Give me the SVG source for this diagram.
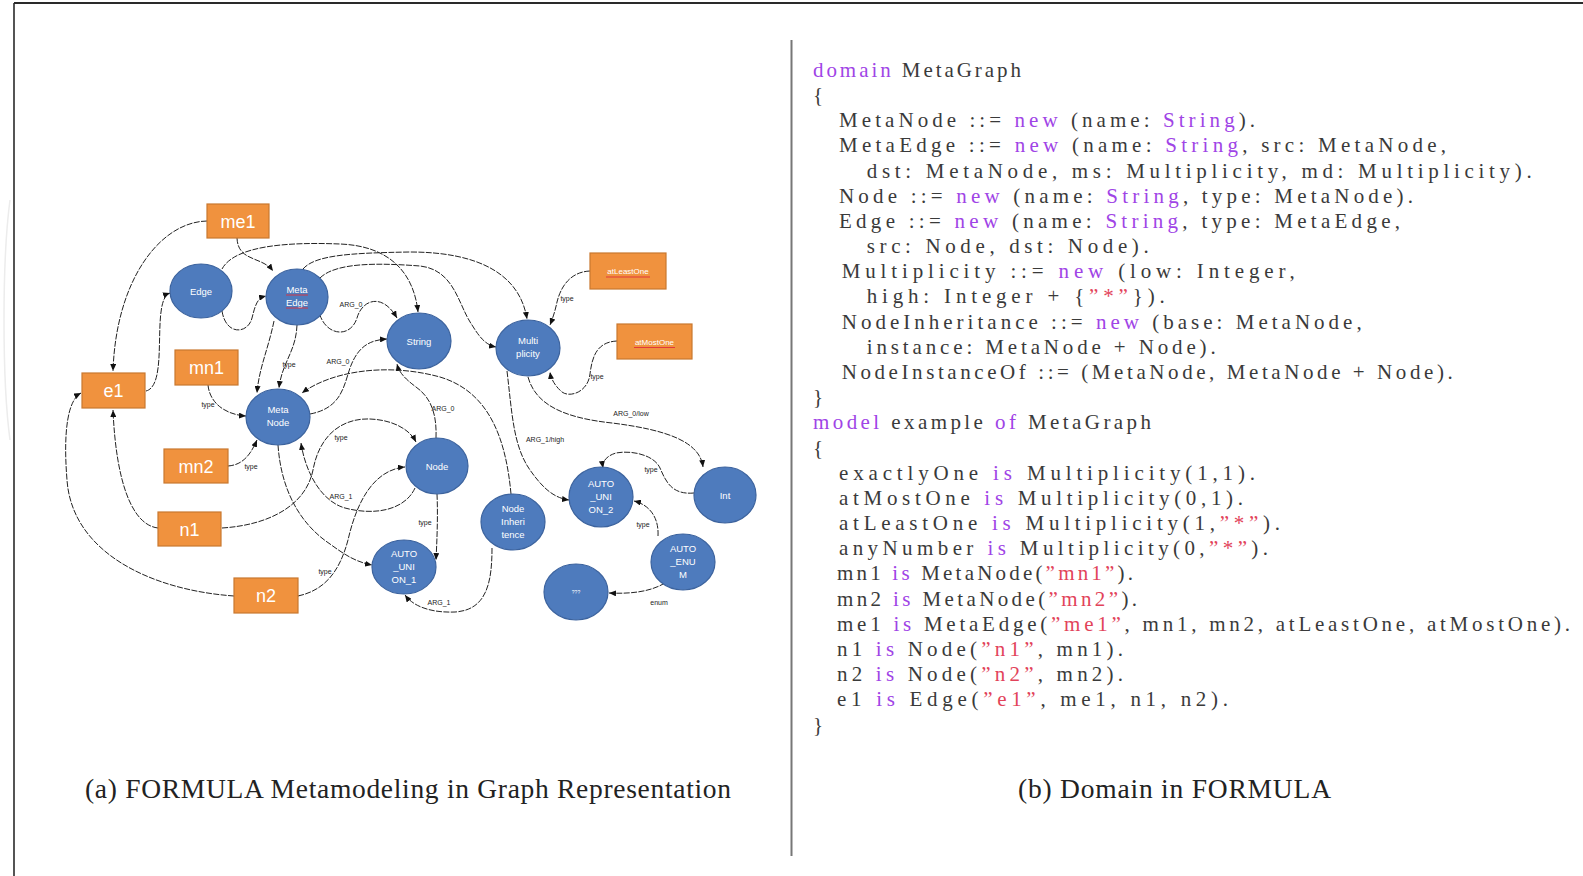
<svg xmlns="http://www.w3.org/2000/svg" width="1583" height="876" viewBox="0 0 1583 876">
  <defs>
    <marker id="arrow" viewBox="0 0 7 6" refX="7" refY="3" markerWidth="7" markerHeight="6" markerUnits="userSpaceOnUse" orient="auto">
      <path d="M0,0 L7,3 L0,6 z" fill="#111"/>
    </marker>
    <style>
      .conn { fill: none; stroke: #222; stroke-width: 1; stroke-dasharray: 6 1.4; marker-end: url(#arrow); }
      .ell { fill: #4e7bbd; stroke: #3c639e; stroke-width: 1.2; }
      .box { fill: #f0923e; stroke: #c9782f; stroke-width: 1.2; }
      .nt { font-family: "Liberation Sans", Arial, sans-serif; font-size: 9.5px; fill: #ffffff; text-anchor: middle; }
      .bt { font-family: "Liberation Sans", Arial, sans-serif; font-size: 18px; fill: #ffffff; text-anchor: middle; }
      .st { font-family: "Liberation Sans", Arial, sans-serif; font-size: 8px; fill: #ffffff; text-anchor: middle; }
      .lbl { font-family: "Liberation Sans", Arial, sans-serif; font-size: 7px; fill: #222; text-anchor: middle; }
      .squig { stroke: #e0303a; stroke-width: 0.9; fill: none; }
      .code { font-family: "Liberation Serif", "Times New Roman", serif; font-size: 21px; fill: #3a3a3a; }
      .kw { fill: #a044e6; }
      .str { fill: #e2435a; }
      .cap { font-family: "Liberation Serif", "Times New Roman", serif; font-size: 27.5px; fill: #222; }
    </style>
  </defs>

  <rect x="0" y="0" width="1583" height="876" fill="#ffffff"/>

  <!-- page frame -->
  <path d="M14,3 L1583,3" stroke="#2a2a2a" stroke-width="2.2" fill="none"/>
  <path d="M14,3 L14,876" stroke="#2a2a2a" stroke-width="1.6" fill="none"/>
  <path d="M10,200 C2,260 2,380 10,440" stroke="#ececec" stroke-width="1.5" fill="none"/>
  <!-- column divider -->
  <path d="M791.5,40 L791.5,856" stroke="#777" stroke-width="2" fill="none"/>

  <!-- connectors -->
  <g id="connectors">
    <path class="conn" d="M207,221 C160,222 116,280 113,371"/>
    <path class="conn" d="M146,391 C170,385 150,300 170,293"/>
    <path class="conn" d="M237,238 C238,262 262,256 273,271"/>
    <path class="conn" d="M222,311 C226,336 248,334 252,318 C256,302 258,298 266,296"/>
    <path class="conn" d="M222,269 C235,245 290,242 340,244 C392,246 414,275 418,312"/>
    <path class="conn" d="M303,269 C315,255 350,253 410,252 C480,252 520,275 527,319"/>
    <path class="conn" d="M320,278 C336,262 380,263 420,266 C455,270 458,305 472,325 C480,338 486,345 496,347"/>
    <path class="conn" d="M318,307 C322,336 350,340 357,318 C362,300 382,292 397,318"/>
    <path class="conn" d="M297,325 C296,352 282,362 279,388"/>
    <path class="conn" d="M274,321 C268,350 259,368 257,393"/>
    <path class="conn" d="M310,414 C342,408 344,385 350,368 C358,346 370,340 387,339"/>
    <path class="conn" d="M436,438 C437,412 430,397 416,387 C404,378 399,372 397,364"/>
    <path class="conn" d="M511,494 C506,440 490,392 440,377 C385,362 330,372 302,393"/>
    <path class="conn" d="M507,371 C512,412 513,446 530,470 C544,490 555,498 569,500"/>
    <path class="conn" d="M528,377 C536,406 566,418 612,423 C668,430 700,442 703,467"/>
    <path class="conn" d="M590,271 C568,272 560,290 557,302 C555,312 552,320 550,325"/>
    <path class="conn" d="M617,341 C596,342 592,358 590,374 C588,392 570,398 562,392 C555,386 551,379 550,372"/>
    <path class="conn" d="M694,493 C672,495 666,482 660,468 C654,455 632,450 616,453 C606,456 602,462 603,468"/>
    <path class="conn" d="M658,536 C659,518 650,505 634,501"/>
    <path class="conn" d="M665,583 C650,592 630,594 609,593"/>
    <path class="conn" d="M492,548 C492,582 487,610 455,612 C430,613 413,606 405,595"/>
    <path class="conn" d="M437,494 C438,515 437,540 436,560"/>
    <path class="conn" d="M278,445 C281,490 300,524 330,544 C345,555 356,562 372,565"/>
    <path class="conn" d="M222,528 C270,525 306,505 313,470 C320,432 345,418 370,419 C394,420 410,430 416,442"/>
    <path class="conn" d="M158,528 C132,525 116,482 113,410"/>
    <path class="conn" d="M234,596 C150,590 72,552 67,480 C63,430 68,400 81,393"/>
    <path class="conn" d="M298,596 C326,590 340,570 348,540 C356,505 372,470 405,467"/>
    <path class="conn" d="M415,488 C405,510 375,516 345,508 C320,501 305,470 301,443"/>
    <path class="conn" d="M208,385 C210,405 228,415 246,416"/>
    <path class="conn" d="M228,466 C242,465 250,456 257,440"/>

    <text class="lbl" x="351" y="307">ARG_0</text>
    <text class="lbl" x="338" y="364">ARG_0</text>
    <text class="lbl" x="443" y="411">ARG_0</text>
    <text class="lbl" x="289" y="367">type</text>
    <text class="lbl" x="208" y="407">type</text>
    <text class="lbl" x="251" y="469">type</text>
    <text class="lbl" x="341" y="440">type</text>
    <text class="lbl" x="341" y="499">ARG_1</text>
    <text class="lbl" x="325" y="574">type</text>
    <text class="lbl" x="425" y="525">type</text>
    <text class="lbl" x="439" y="605">ARG_1</text>
    <text class="lbl" x="567" y="301">type</text>
    <text class="lbl" x="597" y="379">type</text>
    <text class="lbl" x="631" y="416">ARG_0/low</text>
    <text class="lbl" x="545" y="442">ARG_1/high</text>
    <text class="lbl" x="651" y="472">type</text>
    <text class="lbl" x="643" y="527">type</text>
    <text class="lbl" x="659" y="605">enum</text>
  </g>

  <!-- ellipse nodes -->
  <g id="node-edge">
    <ellipse class="ell" cx="201" cy="291" rx="31" ry="27"/>
    <text class="nt" x="201" y="294.5">Edge</text>
  </g>
  <g id="node-metaedge">
    <ellipse class="ell" cx="297" cy="297" rx="31" ry="28"/>
    <text class="nt" x="297" y="293">Meta</text>
    <text class="nt" x="297" y="306">Edge</text>
    <path class="squig" d="M286,295 L308,295"/>
    <path class="squig" d="M286,308 L308,308"/>
  </g>
  <g id="node-string">
    <ellipse class="ell" cx="419" cy="341" rx="32" ry="28"/>
    <text class="nt" x="419" y="344.5">String</text>
  </g>
  <g id="node-multiplicity">
    <ellipse class="ell" cx="528" cy="348" rx="32" ry="28"/>
    <text class="nt" x="528" y="344">Multi</text>
    <text class="nt" x="528" y="357">plicity</text>
  </g>
  <g id="node-metanode">
    <ellipse class="ell" cx="278" cy="417" rx="32" ry="28"/>
    <text class="nt" x="278" y="413">Meta</text>
    <text class="nt" x="278" y="426">Node</text>
  </g>
  <g id="node-node">
    <ellipse class="ell" cx="437" cy="466" rx="31" ry="28"/>
    <text class="nt" x="437" y="469.5">Node</text>
  </g>
  <g id="node-auto-union-1">
    <ellipse class="ell" cx="404" cy="567" rx="32" ry="27"/>
    <text class="nt" x="404" y="557">AUTO</text>
    <text class="nt" x="404" y="570">_UNI</text>
    <text class="nt" x="404" y="583">ON_1</text>
  </g>
  <g id="node-nodeinheritence">
    <ellipse class="ell" cx="513" cy="522" rx="32" ry="28"/>
    <text class="nt" x="513" y="512">Node</text>
    <text class="nt" x="513" y="525">Inheri</text>
    <text class="nt" x="513" y="538">tence</text>
  </g>
  <g id="node-auto-union-2">
    <ellipse class="ell" cx="601" cy="497" rx="32" ry="30"/>
    <text class="nt" x="601" y="487">AUTO</text>
    <text class="nt" x="601" y="500">_UNI</text>
    <text class="nt" x="601" y="513">ON_2</text>
  </g>
  <g id="node-int">
    <ellipse class="ell" cx="725" cy="495" rx="31" ry="28"/>
    <text class="nt" x="725" y="498.5">Int</text>
  </g>
  <g id="node-auto-enum">
    <ellipse class="ell" cx="683" cy="562" rx="32" ry="28"/>
    <text class="nt" x="683" y="552">AUTO</text>
    <text class="nt" x="683" y="565">_ENU</text>
    <text class="nt" x="683" y="578">M</text>
  </g>
  <g id="node-enum">
    <ellipse class="ell" cx="576" cy="592" rx="32" ry="28"/>
    <text class="nt" x="576" y="594" style="font-size:5px">???</text>
  </g>

  <!-- instance boxes -->
  <g id="box-me1">
    <rect class="box" x="207" y="204" width="62" height="34"/>
    <text class="bt" x="238" y="227.5">me1</text>
  </g>
  <g id="box-mn1">
    <rect class="box" x="175" y="350" width="63" height="35"/>
    <text class="bt" x="206.5" y="374">mn1</text>
  </g>
  <g id="box-e1">
    <rect class="box" x="82" y="373" width="63" height="35"/>
    <text class="bt" x="113.5" y="397">e1</text>
  </g>
  <g id="box-mn2">
    <rect class="box" x="164" y="449" width="64" height="34"/>
    <text class="bt" x="196" y="472.5">mn2</text>
  </g>
  <g id="box-n1">
    <rect class="box" x="158" y="512" width="63" height="34"/>
    <text class="bt" x="189.5" y="535.5">n1</text>
  </g>
  <g id="box-n2">
    <rect class="box" x="234" y="578" width="64" height="35"/>
    <text class="bt" x="266" y="602">n2</text>
  </g>
  <g id="box-atleastone">
    <rect class="box" x="590" y="253" width="76" height="36"/>
    <text class="st" x="628" y="274">atLeastOne</text>
    <path class="squig" d="M606,277 L650,277"/>
  </g>
  <g id="box-atmostone">
    <rect class="box" x="617" y="324" width="75" height="35"/>
    <text class="st" x="654.5" y="344.5">atMostOne</text>
    <path class="squig" d="M634,347.5 L675,347.5"/>
  </g>

  <!-- FORMULA listing -->
  <g id="listing">
    <text class="code" x="813" y="76.7" textLength="208" lengthAdjust="spacing"><tspan class="kw">domain</tspan> MetaGraph</text>
    <text class="code" x="813" y="101.9">{</text>
    <text class="code" x="839" y="127.1" textLength="416" lengthAdjust="spacing">MetaNode ::= <tspan class="kw">new</tspan> (name: <tspan class="kw">String</tspan>).</text>
    <text class="code" x="839" y="152.3" textLength="607" lengthAdjust="spacing">MetaEdge ::= <tspan class="kw">new</tspan> (name: <tspan class="kw">String</tspan>, src: MetaNode,</text>
    <text class="code" x="866.7" y="177.5" textLength="665" lengthAdjust="spacing">dst: MetaNode, ms: Multiplicity, md: Multiplicity).</text>
    <text class="code" x="839" y="202.6" textLength="574" lengthAdjust="spacing">Node ::= <tspan class="kw">new</tspan> (name: <tspan class="kw">String</tspan>, type: MetaNode).</text>
    <text class="code" x="839" y="227.8" textLength="561" lengthAdjust="spacing">Edge ::= <tspan class="kw">new</tspan> (name: <tspan class="kw">String</tspan>, type: MetaEdge,</text>
    <text class="code" x="866.7" y="253" textLength="282" lengthAdjust="spacing">src: Node, dst: Node).</text>
    <text class="code" x="841.7" y="278.2" textLength="453" lengthAdjust="spacing">Multiplicity ::= <tspan class="kw">new</tspan> (low: Integer,</text>
    <text class="code" x="866.7" y="303.4" textLength="298" lengthAdjust="spacing">high: Integer + {<tspan class="str">”*”</tspan>}).</text>
    <text class="code" x="841.7" y="328.6" textLength="520" lengthAdjust="spacing">NodeInheritance ::= <tspan class="kw">new</tspan> (base: MetaNode,</text>
    <text class="code" x="866.7" y="353.8" textLength="349" lengthAdjust="spacing">instance: MetaNode + Node).</text>
    <text class="code" x="841.7" y="378.9" textLength="611" lengthAdjust="spacing">NodeInstanceOf ::= (MetaNode, MetaNode + Node).</text>
    <text class="code" x="813" y="404.1">}</text>
    <text class="code" x="813" y="429.3" textLength="338" lengthAdjust="spacing"><tspan class="kw">model</tspan> example <tspan class="kw">of</tspan> MetaGraph</text>
    <text class="code" x="813" y="454.5">{</text>
    <text class="code" x="839" y="479.7" textLength="416" lengthAdjust="spacing">exactlyOne <tspan class="kw">is</tspan> Multiplicity(1,1).</text>
    <text class="code" x="839" y="504.9" textLength="404" lengthAdjust="spacing">atMostOne <tspan class="kw">is</tspan> Multiplicity(0,1).</text>
    <text class="code" x="839" y="530.0" textLength="441" lengthAdjust="spacing">atLeastOne <tspan class="kw">is</tspan> Multiplicity(1,<tspan class="str">”*”</tspan>).</text>
    <text class="code" x="839" y="555.2" textLength="429" lengthAdjust="spacing">anyNumber <tspan class="kw">is</tspan> Multiplicity(0,<tspan class="str">”*”</tspan>).</text>
    <text class="code" x="837" y="580.4" textLength="296" lengthAdjust="spacing">mn1 <tspan class="kw">is</tspan> MetaNode(<tspan class="str">”mn1”</tspan>).</text>
    <text class="code" x="837" y="605.6" textLength="300" lengthAdjust="spacing">mn2 <tspan class="kw">is</tspan> MetaNode(<tspan class="str">”mn2”</tspan>).</text>
    <text class="code" x="837" y="630.8" textLength="733" lengthAdjust="spacing">me1 <tspan class="kw">is</tspan> MetaEdge(<tspan class="str">”me1”</tspan>, mn1, mn2, atLeastOne, atMostOne).</text>
    <text class="code" x="837" y="656.0" textLength="286" lengthAdjust="spacing">n1 <tspan class="kw">is</tspan> Node(<tspan class="str">”n1”</tspan>, mn1).</text>
    <text class="code" x="837" y="681.2" textLength="286" lengthAdjust="spacing">n2 <tspan class="kw">is</tspan> Node(<tspan class="str">”n2”</tspan>, mn2).</text>
    <text class="code" x="837" y="706.4" textLength="391" lengthAdjust="spacing">e1 <tspan class="kw">is</tspan> Edge(<tspan class="str">”e1”</tspan>, me1, n1, n2).</text>
    <text class="code" x="813" y="731.6">}</text>
  </g>

  <!-- sub-figure captions -->
  <g id="captions">
    <text class="cap" x="85" y="798" textLength="646" lengthAdjust="spacing">(a) FORMULA Metamodeling in Graph Representation</text>
    <text class="cap" x="1018" y="798" textLength="313" lengthAdjust="spacing">(b) Domain in FORMULA</text>
  </g>
</svg>
